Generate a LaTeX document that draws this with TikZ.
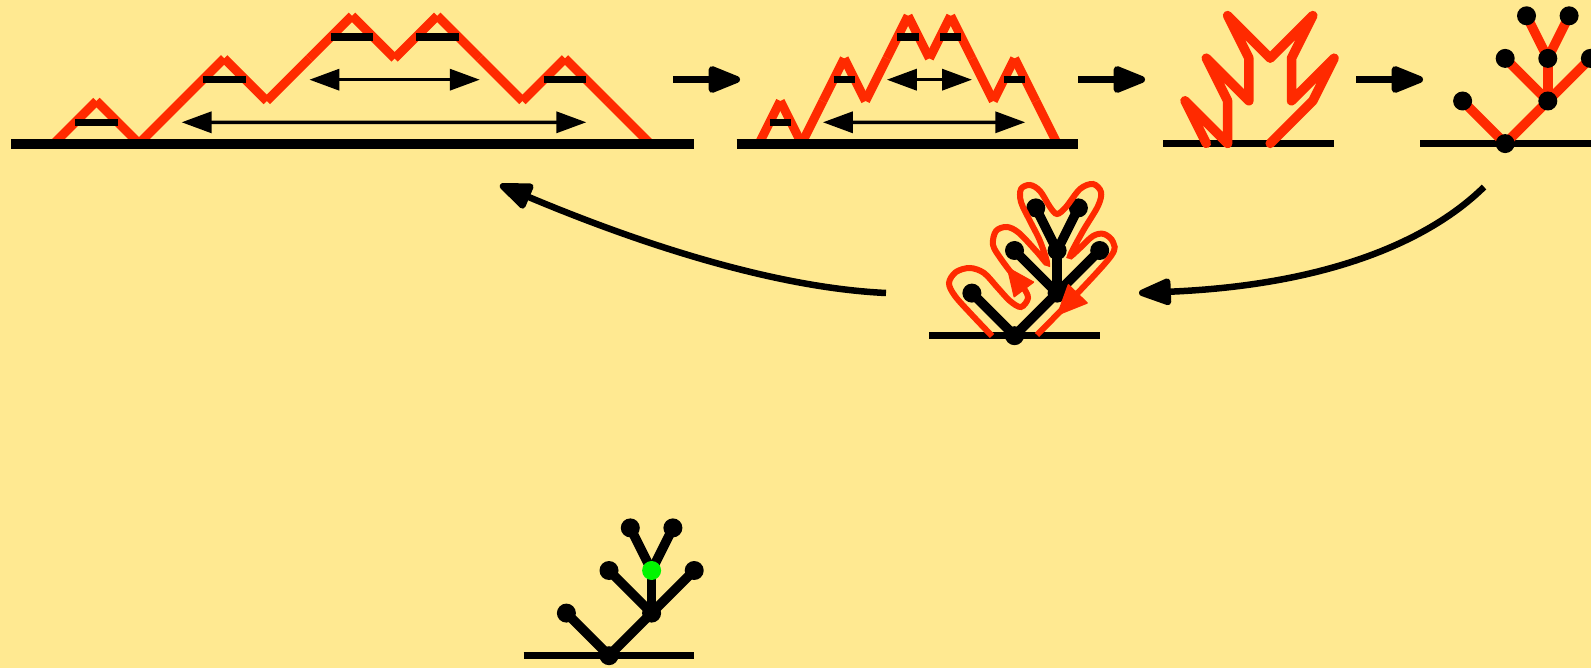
\documentclass[tikz,border=0pt]{standalone}
\usetikzlibrary{arrows.meta,calc}
\definecolor{paper}{RGB}{255,233,145}
\definecolor{flame}{RGB}{255,42,0}
\definecolor{leafgreen}{RGB}{0,245,0}

% tree coordinates: #1 = name prefix, #2 = root position
\newcommand\plantcoords[2]{%
  \coordinate (#1r) at #2;
  \coordinate (#1l) at ($(#1r)+(-42.6,-42.6)$);
  \coordinate (#1n) at ($(#1r)+(42.6,-42.6)$);
  \coordinate (#1c) at ($(#1r)+(0,-85.2)$);
  \coordinate (#1m) at ($(#1r)+(42.6,-85.2)$);
  \coordinate (#1d) at ($(#1r)+(85.2,-85.2)$);
  \coordinate (#1s) at ($(#1r)+(21.3,-127.8)$);
  \coordinate (#1t) at ($(#1r)+(63.9,-127.8)$);
}
% tree edges in style #2
\newcommand\plantedges[2]{%
  \draw[#2] (#1r) -- (#1l);
  \draw[#2] (#1r) -- (#1n);
  \draw[#2] (#1n) -- (#1c);
  \draw[#2] (#1n) -- (#1m);
  \draw[#2] (#1n) -- (#1d);
  \draw[#2] (#1m) -- (#1s);
  \draw[#2] (#1m) -- (#1t);
}

\begin{document}
\begin{tikzpicture}[x=1pt,y=-1pt,
  pathstep/.style={flame,line width=9pt},
  levelbar/.style={black,line width=7.5pt},
  ground/.style={black,line width=10pt},
  thinground/.style={black,line width=7pt},
  span/.style={black,line width=3.5pt,{Triangle[length=30pt,width=21pt]}-{Triangle[length=30pt,width=21pt]}},
  stagearrow/.style={black,line width=7pt,-{Triangle[length=38pt,width=28pt,round]}},
  bendarrow/.style={black,line width=6.5pt,-{Triangle[length=38pt,width=28pt,round]}},
  fold/.style={flame,line width=9.5pt,line cap=round,line join=round},
  redbranch/.style={flame,line width=9.5pt},
  branch/.style={black,line width=9.5pt},
  vertex/.style={circle,fill=black,inner sep=0pt,minimum size=19pt},
  greenvertex/.style={vertex,fill=leafgreen},
  contour/.style={flame,line width=6pt},
  contourtip/.style={flame,line join=round},
]
\fill[paper] (0,0) rectangle (1591,668);
\useasboundingbox (0,0) rectangle (1591,668);

% ---------- stage 1: the Dyck path ----------
\foreach \lev [count=\i from 0] in {0,1,0,1,2,1,2,3,2,3,2,1,2,1,0}
  \coordinate (a\i) at (53.8+42.6*\i, 143.6-42.6*\lev);
\foreach \i [evaluate=\i as \j using int(\i+1)] in {0,...,13}
  \draw[pathstep] (a\i) -- (a\j);
\foreach \k in {1,4,7,9,12}
  \draw[levelbar] ($(a\k)+(-21.3,21.3)$) -- ($(a\k)+(21.3,21.3)$);
\draw[span] ($(a6)+(0,21.3)$) -- ($(a10)+(0,21.3)$);
\draw[span] ($(a3)+(0,21.3)$) -- ($(a12)+(21.3,63.9)$);
\coordinate (g1a) at (11,143.6);
\coordinate (g1b) at (694,143.6);
\draw[ground] (g1a) -- (g1b);

\coordinate (s1a) at (673,79.5);
\coordinate (s1b) at (740,79.5);
\draw[stagearrow] (s1a) -- (s1b);

% ---------- stage 2: squeezed path ----------
\foreach \lev [count=\i from 0] in {0,1,0,1,2,1,2,3,2,3,2,1,2,1,0}
  \coordinate (b\i) at (759+21.3*\i, 143.6-42.6*\lev);
\foreach \i [evaluate=\i as \j using int(\i+1)] in {0,...,13}
  \draw[pathstep] (b\i) -- (b\j);
\foreach \k in {1,4,7,9,12}
  \draw[levelbar] ($(b\k)+(-10.65,21.3)$) -- ($(b\k)+(10.65,21.3)$);
\draw[span] ($(b6)+(0,21.3)$) -- ($(b10)+(0,21.3)$);
\draw[span] ($(b3)+(0,21.3)$) -- ($(b12)+(10.65,63.9)$);
\coordinate (g2a) at (736.7,143.6);
\coordinate (g2b) at (1077.6,143.6);
\draw[ground] (g2a) -- (g2b);

\coordinate (s2a) at (1078,79.5);
\coordinate (s2b) at (1145,79.5);
\draw[stagearrow] (s2a) -- (s2b);

% ---------- stage 3: folded path ----------
\coordinate (g3a) at (1163,143.6);
\coordinate (g3b) at (1334,143.6);
\draw[thinground] (g3a) -- (g3b);
\draw[fold] (1206.3,143.4) -- (1185,100.8) -- (1227.6,143.4) -- (1227.6,100.8)
  -- (1206.3,58.2) -- (1248.9,100.8) -- (1248.9,58.2) -- (1227.6,15.6)
  -- (1270.2,58.2) -- (1312.8,15.6) -- (1291.5,58.2) -- (1291.5,100.8)
  -- (1334.1,58.2) -- (1312.8,100.8) -- (1270.2,143.4);

\coordinate (s3a) at (1356,79.5);
\coordinate (s3b) at (1423,79.5);
\draw[stagearrow] (s3a) -- (s3b);

% ---------- stage 4: the tree with red edges ----------
\plantcoords{p}{(1505.2,143.6)}
\coordinate (g4a) at (1420,143.6);
\coordinate (g4b) at (1600,143.6);
\draw[thinground] (g4a) -- (g4b);
\plantedges{p}{redbranch}
\foreach \v in {r,l,n,c,m,d,s,t}
  \node[vertex] (pv\v) at (p\v) {};

% ---------- return arrows ----------
\coordinate (c1a) at (1484,187);
\coordinate (c1b) at (1139,293);
\draw[bendarrow] (c1a) .. controls (1430,240) and (1330,285) .. (c1b);
\coordinate (c2a) at (886,293);
\coordinate (c2b) at (500,185);
\draw[bendarrow] (c2a) .. controls (780,288) and (650,248) .. (c2b);

% ---------- stage 5: tree with its contour ----------
\plantcoords{q}{(1014.5,335.7)}
\coordinate (g5a) at (929.3,335.7);
\coordinate (g5b) at (1099.7,335.7);
\draw[thinground] (g5a) -- (g5b);
\plantedges{q}{branch}
\foreach \v in {r,l,n,c,m,d,s,t}
  \node[vertex] (qv\v) at (q\v) {};
\draw[contour] plot[smooth,tension=0.55] coordinates {
  (992,336) (972,315) (955,296) (949,283) (956,272) (970,268) (984,273)
  (997,287) (1010,301) (1021,307) (1028,298) (1023,287) (1013,275)
  (1001,259) (993,245) (996,231) (1007,227) (1019,233) (1037,252)
  (1047,263) (1040,241) (1030,221) (1021,202) (1021,189) (1030,185)
  (1040,191) (1050,207) (1057,214) (1066,207) (1080,189) (1093,184)
  (1101,192) (1098,206) (1083,231) (1070,256) (1080,248) (1093,236)
  (1104,234) (1113,242) (1111,256) (1073,298) (1037,335)};
\filldraw[contourtip,line width=1.5pt,shift={(1016,279)},rotate=127]
  (14,0) -- (-13,12) -- (-13,-12) -- cycle;
\filldraw[contourtip,line width=1.5pt,shift={(1068,304)},rotate=226]
  (15,0) -- (-14,13) -- (-14,-13) -- cycle;

% ---------- stage 6: the tree with a marked vertex ----------
\plantcoords{w}{(609,655.7)}
\coordinate (g6a) at (523.6,655.7);
\coordinate (g6b) at (694,655.7);
\draw[thinground] (g6a) -- (g6b);
\plantedges{w}{branch}
\foreach \v in {r,l,n,c,d,s,t}
  \node[vertex] (wv\v) at (w\v) {};
\node[greenvertex] (wvm) at (wm) {};
\end{tikzpicture}
\end{document}
